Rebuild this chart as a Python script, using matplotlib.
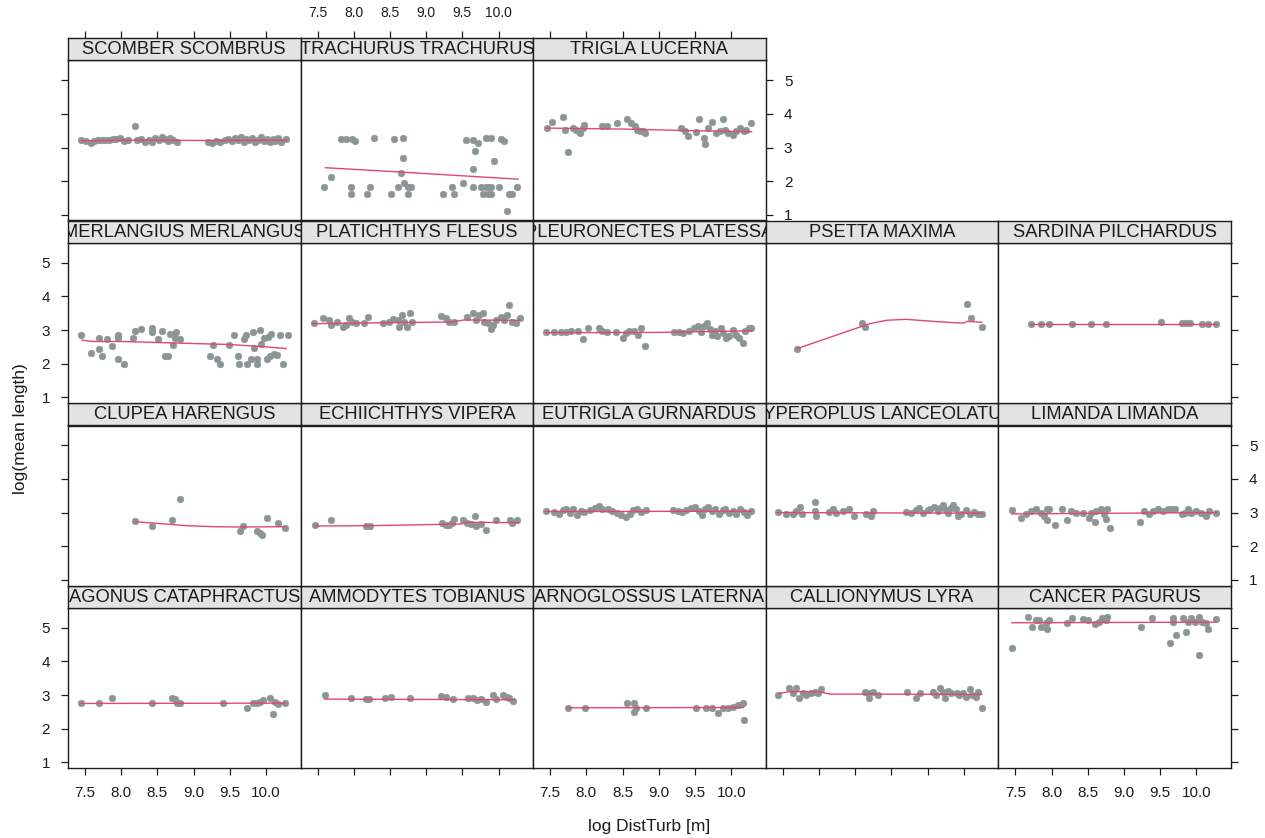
import matplotlib
matplotlib.use("Agg")
import matplotlib.pyplot as plt

# ---------------- data ----------------
AGONUS_X = [7.45, 7.70, 7.87, 8.43, 8.70, 8.74, 8.77, 8.81, 9.40, 9.74, 9.82, 9.87, 9.92, 9.96, 10.06, 10.10, 10.12, 10.17, 10.26]
AGONUS_Y = [2.75, 2.75, 2.90, 2.75, 2.90, 2.87, 2.75, 2.75, 2.75, 2.62, 2.75, 2.75, 2.80, 2.85, 2.90, 2.44, 2.80, 2.73, 2.75]
AGONUS_FX = [7.45, 10.26]
AGONUS_FY = [2.75, 2.76]

AMMODYTES_X = [7.60, 7.96, 8.17, 8.21, 8.43, 8.51, 8.78, 9.21, 9.28, 9.37, 9.58, 9.64, 9.70, 9.76, 9.83, 9.92, 9.97, 10.06, 10.11, 10.15, 10.20]
AMMODYTES_Y = [3.00, 2.90, 2.88, 2.88, 2.90, 2.95, 2.90, 2.97, 2.95, 2.88, 2.92, 2.92, 2.85, 2.88, 2.78, 3.00, 2.88, 3.00, 2.95, 2.90, 2.83]
AMMODYTES_FX = [7.60, 10.22]
AMMODYTES_FY = [2.88, 2.86]

ARNOGLOSSUS_X = [7.74, 7.98, 8.56, 8.66, 8.66, 8.68, 8.82, 9.52, 9.65, 9.74, 9.82, 9.88, 9.96, 10.03, 10.10, 10.16, 10.17]
ARNOGLOSSUS_Y = [2.62, 2.62, 2.77, 2.77, 2.50, 2.62, 2.62, 2.62, 2.62, 2.62, 2.48, 2.62, 2.62, 2.65, 2.69, 2.77, 2.25]
ARNOGLOSSUS_FX = [7.74, 10.17]
ARNOGLOSSUS_FY = [2.62, 2.63]

CALLIONYMUS_X = [7.44, 7.59, 7.64, 7.68, 7.73, 7.78, 7.82, 7.89, 7.94, 7.98, 8.03, 8.63, 8.67, 8.69, 8.74, 8.81, 9.21, 9.34, 9.39, 9.57,
                 9.62, 9.67, 9.71, 9.74, 9.78, 9.83, 9.90, 9.94, 9.99, 10.03, 10.08, 10.11, 10.17, 10.19, 10.25]
CALLIONYMUS_Y = [3.00, 3.20, 3.05, 3.20, 2.90, 3.05, 3.00, 3.05, 3.10, 3.05, 3.17, 3.10, 3.07, 2.90, 3.10, 3.00, 3.10, 2.90, 3.05, 3.10,
                 3.00, 3.20, 3.10, 2.90, 3.12, 3.05, 3.07, 3.00, 3.05, 2.95, 3.17, 3.00, 2.95, 3.10, 2.62]
CALLIONYMUS_FX = [7.45, 7.59, 8.00, 8.15, 10.25]
CALLIONYMUS_FY = [3.05, 3.10, 3.10, 3.03, 3.02]

CANCER_X = [7.45, 7.67, 7.73, 7.78, 7.82, 7.85, 7.92, 7.94, 7.96, 8.21, 8.28, 8.43, 8.50, 8.60, 8.65, 8.69, 8.75, 8.77, 9.23, 9.39,
            9.63, 9.67, 9.68, 9.72, 9.81, 9.86, 9.88, 9.93, 9.98, 10.04, 10.04, 10.08, 10.13, 10.16, 10.27]
CANCER_Y = [4.39, 5.31, 5.03, 5.22, 5.23, 5.03, 5.15, 4.98, 5.23, 5.15, 5.28, 5.25, 5.22, 5.11, 5.18, 5.28, 5.22, 5.33, 5.03, 5.28,
            4.56, 5.18, 5.28, 4.78, 5.28, 4.88, 5.18, 5.28, 5.18, 5.31, 4.19, 5.18, 5.13, 4.98, 5.25]
CANCER_FX = [7.45, 10.27]
CANCER_FY = [5.15, 5.17]

CLUPEA_X = [8.19, 8.42, 8.70, 8.81, 9.64, 9.68, 9.87, 9.92, 9.95, 10.01, 10.16, 10.26]
CLUPEA_Y = [2.75, 2.61, 2.77, 3.41, 2.46, 2.61, 2.46, 2.38, 2.33, 2.83, 2.69, 2.54]
CLUPEA_FX = [8.19, 8.90, 9.27, 9.64, 10.26]
CLUPEA_FY = [2.73, 2.61, 2.58, 2.57, 2.58]

ECHIICHTHYS_X = [7.47, 7.69, 8.17, 8.22, 9.22, 9.27, 9.31, 9.36, 9.39, 9.51, 9.57, 9.62, 9.67, 9.69, 9.76, 9.82, 9.96, 10.16, 10.19, 10.26]
ECHIICHTHYS_Y = [2.63, 2.77, 2.61, 2.61, 2.70, 2.64, 2.64, 2.68, 2.80, 2.77, 2.70, 2.66, 2.90, 2.61, 2.66, 2.48, 2.77, 2.77, 2.68, 2.77]
ECHIICHTHYS_FX = [7.47, 8.22, 9.48, 9.57, 10.27]
ECHIICHTHYS_FY = [2.60, 2.61, 2.66, 2.71, 2.70]

EUTRIGLA_X = [7.44, 7.55, 7.62, 7.68, 7.72, 7.78, 7.82, 7.87, 7.92, 7.97, 8.05, 8.12, 8.17, 8.22, 8.30, 8.36, 8.42, 8.48, 8.55, 8.60,
              8.65, 8.70, 8.76, 8.82, 9.20, 9.26, 9.32, 9.38, 9.45, 9.50, 9.55, 9.60, 9.64, 9.68, 9.73, 9.78, 9.83, 9.88, 9.92, 9.97,
              10.02, 10.07, 10.12, 10.17, 10.22, 10.28]
EUTRIGLA_Y = [3.05, 3.02, 2.96, 3.08, 3.12, 3.00, 3.10, 2.92, 3.06, 3.02, 3.08, 3.15, 3.20, 3.12, 3.10, 3.06, 3.00, 2.92, 2.88, 2.95,
              3.08, 3.12, 3.02, 3.08, 3.08, 3.06, 3.02, 3.08, 3.14, 3.18, 3.06, 2.94, 3.10, 3.16, 3.04, 3.10, 2.96, 3.08, 3.12, 3.00,
              3.06, 2.95, 3.10, 3.02, 2.94, 3.06]
EUTRIGLA_FX = [7.44, 10.28]
EUTRIGLA_FY = [3.03, 3.04]

HYPEROPLUS_X = [7.43, 7.55, 7.64, 7.68, 7.74, 7.76, 7.94, 7.95, 7.96, 8.14, 8.19, 8.23, 8.33, 8.42, 8.49, 8.65, 8.74, 8.72, 9.20, 9.27,
                9.34, 9.38, 9.43, 9.50, 9.54, 9.59, 9.64, 9.67, 9.71, 9.75, 9.78, 9.82, 9.85, 9.89, 9.92, 9.96, 10.03, 10.08, 10.14, 10.19,
                10.25]
HYPEROPLUS_Y = [3.02, 2.97, 2.97, 3.05, 3.16, 2.95, 3.30, 3.05, 2.90, 3.02, 3.10, 3.00, 3.05, 3.10, 2.90, 2.97, 3.05, 2.90, 3.02, 3.00,
                3.07, 3.14, 3.00, 3.07, 3.10, 3.16, 3.05, 3.14, 3.23, 3.07, 3.00, 3.14, 3.23, 3.10, 2.90, 2.97, 3.07, 2.97, 3.02, 2.95,
                2.97]
HYPEROPLUS_FX = [7.43, 10.25]
HYPEROPLUS_FY = [3.00, 2.98]

LIMANDA_X = [7.45, 7.58, 7.64, 7.71, 7.79, 7.85, 7.89, 7.94, 7.97, 7.94, 8.04, 8.15, 8.21, 8.27, 8.34, 8.43, 8.52, 8.55, 8.60, 8.61,
             8.68, 8.72, 8.75, 8.77, 8.80, 9.22, 9.28, 9.35, 9.40, 9.47, 9.54, 9.61, 9.66, 9.70, 9.80, 9.84, 9.88, 9.93, 10.00, 10.07,
             10.13, 10.17, 10.27]
LIMANDA_Y = [3.07, 2.85, 2.95, 3.05, 3.12, 3.00, 2.90, 3.10, 3.12, 2.78, 2.64, 3.12, 2.78, 3.05, 3.00, 3.00, 2.85, 3.00, 2.71, 3.05,
             3.12, 2.95, 2.81, 3.12, 2.55, 2.71, 3.05, 2.95, 3.05, 3.10, 3.05, 3.12, 3.10, 3.12, 2.95, 3.00, 3.10, 3.00, 3.05, 3.00,
             2.90, 3.05, 3.00]
LIMANDA_FX = [7.45, 10.27]
LIMANDA_FY = [2.96, 3.00]

MERLANGIUS_X = [7.45, 7.58, 7.69, 7.69, 7.73, 7.81, 7.87, 7.95, 7.95, 7.95, 8.04, 8.16, 8.19, 8.28, 8.42, 8.43, 8.51, 8.56, 8.60, 8.65,
                8.67, 8.71, 8.74, 8.76, 8.81, 9.22, 9.27, 9.33, 9.37, 9.49, 9.56, 9.62, 9.63, 9.69, 9.73, 9.74, 9.79, 9.82, 9.83, 9.87,
                9.88, 9.92, 9.93, 9.97, 10.01, 10.03, 10.05, 10.07, 10.11, 10.15, 10.19, 10.24, 10.30]
MERLANGIUS_Y = [2.86, 2.32, 2.76, 2.44, 2.23, 2.72, 2.52, 2.86, 2.76, 2.13, 2.00, 2.76, 2.97, 3.03, 3.05, 2.93, 2.72, 2.97, 2.23, 2.23,
                2.88, 2.57, 2.76, 2.95, 2.73, 2.23, 2.57, 2.13, 2.00, 2.57, 2.86, 2.23, 1.98, 2.72, 2.85, 1.98, 2.13, 2.95, 2.47, 2.13,
                1.98, 3.01, 2.58, 2.76, 2.13, 2.80, 2.23, 2.88, 2.30, 2.25, 2.86, 1.98, 2.86]
MERLANGIUS_FX = [7.46, 7.60, 8.00, 8.50, 9.00, 9.50, 10.00, 10.28]
MERLANGIUS_FY = [2.70, 2.66, 2.66, 2.63, 2.60, 2.57, 2.50, 2.45]

PLATICHTHYS_X = [7.45, 7.58, 7.66, 7.68, 7.77, 7.85, 7.89, 7.94, 7.97, 8.03, 8.14, 8.20, 8.41, 8.49, 8.54, 8.61, 8.63, 8.67, 8.70, 8.74,
                 8.78, 8.81, 9.21, 9.27, 9.32, 9.39, 9.57, 9.64, 9.69, 9.73, 9.78, 9.80, 9.85, 9.89, 9.92, 9.96, 10.03, 10.08, 10.12, 10.15,
                 10.19, 10.24, 10.29]
PLATICHTHYS_Y = [3.20, 3.35, 3.30, 3.16, 3.23, 3.10, 3.16, 3.37, 3.25, 3.21, 3.21, 3.40, 3.20, 3.23, 3.32, 3.30, 3.10, 3.45, 3.23, 3.10,
                 3.50, 3.23, 3.43, 3.37, 3.25, 3.23, 3.40, 3.50, 3.30, 3.45, 3.50, 3.25, 3.21, 3.03, 3.16, 3.30, 3.40, 3.30, 3.45, 3.75,
                 3.25, 3.21, 3.35]
PLATICHTHYS_FX = [7.43, 8.50, 9.35, 9.52, 10.29]
PLATICHTHYS_FY = [3.19, 3.22, 3.24, 3.30, 3.29]

PLEURONECTES_X = [7.44, 7.55, 7.65, 7.72, 7.79, 7.88, 7.95, 8.02, 8.18, 8.22, 8.29, 8.41, 8.50, 8.55, 8.59, 8.66, 8.71, 8.75, 8.81, 9.21,
                  9.28, 9.34, 9.42, 9.49, 9.54, 9.58, 9.63, 9.66, 9.71, 9.74, 9.77, 9.81, 9.86, 9.89, 9.93, 9.97, 10.02, 10.06, 10.11, 10.16,
                  10.19, 10.24, 10.28]
PLEURONECTES_Y = [2.93, 2.93, 2.93, 2.93, 2.96, 2.96, 2.72, 3.06, 3.06, 2.96, 2.93, 2.93, 2.77, 2.91, 2.96, 2.96, 2.86, 3.06, 2.54, 2.93,
                  2.93, 2.91, 2.96, 3.06, 3.11, 2.93, 3.11, 3.20, 3.03, 2.86, 2.96, 2.81, 3.06, 2.91, 2.77, 2.81, 3.01, 2.86, 2.77, 2.62,
                  2.96, 3.06, 3.06]
PLEURONECTES_FX = [7.44, 9.00, 10.28]
PLEURONECTES_FY = [2.92, 2.93, 2.98]

PSETTA_X = [7.70, 8.60, 8.64, 10.05, 10.10, 10.25]
PSETTA_Y = [2.45, 3.21, 3.08, 3.78, 3.37, 3.09]
PSETTA_FX = [7.70, 8.70, 8.93, 9.20, 9.57, 9.94, 10.00, 10.05, 10.25]
PSETTA_FY = [2.45, 3.19, 3.29, 3.32, 3.26, 3.21, 3.21, 3.26, 3.23]

SARDINA_X = [7.72, 7.85, 7.97, 8.28, 8.55, 8.75, 9.51, 9.80, 9.85, 9.91, 10.08, 10.16, 10.27]
SARDINA_Y = [3.18, 3.18, 3.18, 3.18, 3.18, 3.18, 3.25, 3.20, 3.22, 3.22, 3.18, 3.18, 3.18]
SARDINA_FX = [7.72, 10.27]
SARDINA_FY = [3.18, 3.18]

SCOMBER_X = [7.45, 7.52, 7.58, 7.63, 7.68, 7.73, 7.78, 7.83, 7.88, 7.93, 7.98, 8.04, 8.10, 8.19, 8.22, 8.27, 8.33, 8.38, 8.43, 8.47,
             8.52, 8.56, 8.60, 8.64, 8.68, 8.72, 8.77, 9.20, 9.26, 9.31, 9.37, 9.43, 9.48, 9.53, 9.57, 9.61, 9.65, 9.69, 9.73, 9.77,
             9.81, 9.85, 9.89, 9.93, 9.97, 10.01, 10.05, 10.09, 10.13, 10.17, 10.21, 10.28]
SCOMBER_Y = [3.22, 3.20, 3.15, 3.20, 3.22, 3.21, 3.23, 3.22, 3.25, 3.24, 3.27, 3.20, 3.22, 3.65, 3.21, 3.25, 3.16, 3.22, 3.18, 3.27,
             3.23, 3.30, 3.25, 3.20, 3.28, 3.23, 3.18, 3.18, 3.15, 3.20, 3.16, 3.22, 3.25, 3.19, 3.28, 3.22, 3.30, 3.17, 3.25, 3.21,
             3.27, 3.18, 3.23, 3.30, 3.19, 3.26, 3.17, 3.24, 3.20, 3.28, 3.18, 3.24]
SCOMBER_FX = [7.45, 8.20, 9.20, 10.28]
SCOMBER_FY = [3.20, 3.22, 3.21, 3.22]

TRACHURUS_X = [7.59, 7.68, 7.82, 7.89, 7.98, 8.01, 7.96, 7.96, 8.23, 8.18, 8.28, 8.51, 8.55, 8.68, 8.68, 8.65, 8.61, 8.70, 8.75, 8.75,
               8.79, 9.23, 9.35, 9.39, 9.51, 9.55, 9.64, 9.71, 9.68, 9.64, 9.64, 9.76, 9.83, 9.85, 9.90, 10.00, 9.78, 9.85, 9.90, 9.82,
               9.89, 9.94, 10.04, 10.08, 10.11, 10.15, 10.19, 10.25]
TRACHURUS_Y = [1.83, 2.11, 3.25, 3.25, 3.25, 3.20, 1.83, 1.61, 1.83, 1.61, 3.27, 1.61, 3.25, 3.27, 2.69, 2.25, 1.83, 1.95, 1.83, 1.61,
               1.83, 1.61, 1.83, 1.61, 1.95, 3.22, 3.22, 3.13, 2.90, 2.36, 1.83, 1.83, 1.83, 1.83, 1.83, 1.83, 1.61, 1.61, 1.61, 3.27,
               3.28, 2.59, 3.25, 3.20, 1.10, 1.61, 1.61, 1.83]
TRACHURUS_FX = [7.61, 8.50, 9.50, 10.27]
TRACHURUS_FY = [2.40, 2.29, 2.16, 2.06]

TRIGLA_X = [7.45, 7.52, 7.68, 7.70, 7.74, 7.81, 7.86, 7.91, 7.95, 7.97, 8.21, 8.28, 8.42, 8.56, 8.62, 8.67, 8.70, 8.74, 8.78, 8.81,
            9.31, 9.36, 9.40, 9.51, 9.56, 9.62, 9.64, 9.68, 9.74, 9.79, 9.84, 9.89, 9.91, 9.95, 10.02, 10.07, 10.12, 10.17, 10.21, 10.28]
TRIGLA_Y = [3.58, 3.77, 3.90, 3.52, 2.87, 3.58, 3.52, 3.42, 3.58, 3.66, 3.63, 3.63, 3.73, 3.86, 3.73, 3.63, 3.52, 3.48, 3.50, 3.42,
            3.58, 3.50, 3.35, 3.45, 3.86, 3.29, 3.12, 3.58, 3.77, 3.42, 3.48, 3.86, 3.52, 3.42, 3.38, 3.48, 3.58, 3.48, 3.52, 3.73]
TRIGLA_FX = [7.45, 8.50, 9.50, 10.28]
TRIGLA_FY = [3.58, 3.55, 3.50, 3.47]

# panels in lattice order (bottom-left first, row by row upward)
PANEL_NAMES = ["AGONUS CATAPHRACTUS", "AMMODYTES TOBIANUS", "ARNOGLOSSUS LATERNA", "CALLIONYMUS LYRA", "CANCER PAGURUS",
               "CLUPEA HARENGUS", "ECHIICHTHYS VIPERA", "EUTRIGLA GURNARDUS", "HYPEROPLUS LANCEOLATUS", "LIMANDA LIMANDA",
               "MERLANGIUS MERLANGUS", "PLATICHTHYS FLESUS", "PLEURONECTES PLATESSA", "PSETTA MAXIMA", "SARDINA PILCHARDUS",
               "SCOMBER SCOMBRUS", "TRACHURUS TRACHURUS", "TRIGLA LUCERNA"]
PANEL_PTS = [(AGONUS_X, AGONUS_Y), (AMMODYTES_X, AMMODYTES_Y), (ARNOGLOSSUS_X, ARNOGLOSSUS_Y),
             (CALLIONYMUS_X, CALLIONYMUS_Y), (CANCER_X, CANCER_Y), (CLUPEA_X, CLUPEA_Y),
             (ECHIICHTHYS_X, ECHIICHTHYS_Y), (EUTRIGLA_X, EUTRIGLA_Y), (HYPEROPLUS_X, HYPEROPLUS_Y),
             (LIMANDA_X, LIMANDA_Y), (MERLANGIUS_X, MERLANGIUS_Y), (PLATICHTHYS_X, PLATICHTHYS_Y),
             (PLEURONECTES_X, PLEURONECTES_Y), (PSETTA_X, PSETTA_Y), (SARDINA_X, SARDINA_Y),
             (SCOMBER_X, SCOMBER_Y), (TRACHURUS_X, TRACHURUS_Y), (TRIGLA_X, TRIGLA_Y)]
PANEL_FIT = [(AGONUS_FX, AGONUS_FY), (AMMODYTES_FX, AMMODYTES_FY), (ARNOGLOSSUS_FX, ARNOGLOSSUS_FY),
             (CALLIONYMUS_FX, CALLIONYMUS_FY), (CANCER_FX, CANCER_FY), (CLUPEA_FX, CLUPEA_FY),
             (ECHIICHTHYS_FX, ECHIICHTHYS_FY), (EUTRIGLA_FX, EUTRIGLA_FY), (HYPEROPLUS_FX, HYPEROPLUS_FY),
             (LIMANDA_FX, LIMANDA_FY), (MERLANGIUS_FX, MERLANGIUS_FY), (PLATICHTHYS_FX, PLATICHTHYS_FY),
             (PLEURONECTES_FX, PLEURONECTES_FY), (PSETTA_FX, PSETTA_FY), (SARDINA_FX, SARDINA_FY),
             (SCOMBER_FX, SCOMBER_FY), (TRACHURUS_FX, TRACHURUS_FY), (TRIGLA_FX, TRIGLA_FY)]

X_TICKS = [7.5, 8.0, 8.5, 9.0, 9.5, 10.0]
X_TICKLABELS = ["7.5", "8.0", "8.5", "9.0", "9.5", "10.0"]
Y_TICKS = [1, 2, 3, 4, 5]
Y_TICKLABELS = ["1", "2", "3", "4", "5"]
X_LABEL = "log DistTurb [m]"
Y_LABEL = "log(mean length)"

# ---------------- layout / style ----------------
plt.rcParams["font.family"] = ["Liberation Sans", "DejaVu Sans"]
W, H = 1265, 838
fig = plt.figure(figsize=(W / 100, H / 100), dpi=100)
fig.patch.set_facecolor("white")

LEFT, COLW = 68.0, 232.6
TOP, ROWH, STRIPH = 38.0, 182.5, 22.5
PANELH = ROWH - STRIPH
XLIM = (7.265, 10.478)
YLIM = (0.83, 5.59)
INK = "#1c1c1c"
PT_COLOR = "#8b9595"
LINE_COLOR = "#e0486c"
STRIP_COLOR = "#e3e3e3"
TICK_FS = 11
TICK_LEN = 5
TICK_PAD = 8


def rect(x0, y0, w, h):
    return [x0 / W, 1 - (y0 + h) / H, w / W, h / H]


n = len(PANEL_NAMES)
for i, name in enumerate(PANEL_NAMES):
    row_t = 3 - i // 5
    col = i % 5
    x0 = LEFT + col * COLW
    y_strip = TOP + row_t * ROWH
    y_panel = y_strip + STRIPH

    ax = fig.add_axes(rect(x0, y_panel, COLW, PANELH))
    sax = fig.add_axes(rect(x0, y_strip, COLW, STRIPH))

    px, py = PANEL_PTS[i]
    fx, fy = PANEL_FIT[i]
    ax.plot(px, py, "o", ms=4.8, color=PT_COLOR, mec=PT_COLOR, mew=0.4, zorder=2)
    ax.plot(fx, fy, "-", color=LINE_COLOR, lw=1.0, zorder=3)
    ax.set_xlim(*XLIM)
    ax.set_ylim(*YLIM)
    ax.set_xticks(X_TICKS)
    ax.set_xticklabels(X_TICKLABELS)
    ax.set_yticks(Y_TICKS)
    ax.set_yticklabels(Y_TICKLABELS)
    for s in ax.spines.values():
        s.set_color(INK)
        s.set_linewidth(1.0)

    is_last = (col == 4) or (i == n - 1)
    left_t = col == 0
    right_t = is_last
    bottom_t = row_t == 3
    ax.tick_params(axis="both", direction="out", length=TICK_LEN, width=0.9, color=INK,
                   labelcolor=INK, labelsize=TICK_FS, pad=TICK_PAD)
    ax.tick_params(axis="x", bottom=bottom_t, top=False,
                   labelbottom=bottom_t and col in (0, 2, 4), labeltop=False)
    ax.tick_params(axis="y", left=left_t, right=right_t,
                   labelleft=left_t and row_t in (1, 3),
                   labelright=right_t and row_t in (0, 2))

    # strip
    sax.set_facecolor(STRIP_COLOR)
    sax.set_xlim(*XLIM)
    sax.set_ylim(0, 1)
    sax.set_yticks([])
    sax.set_xticks(X_TICKS)
    sax.set_xticklabels(X_TICKLABELS)
    top_t = row_t == 0
    sax.tick_params(axis="x", direction="out", length=TICK_LEN, width=0.9, color=INK,
                    labelcolor=INK, labelsize=TICK_FS - 1, pad=TICK_PAD,
                    bottom=False, labelbottom=False, top=top_t,
                    labeltop=top_t and col in (1, 3))
    for s in sax.spines.values():
        s.set_color(INK)
        s.set_linewidth(1.0)
    sax.text(0.5, 0.47, name, transform=sax.transAxes, ha="center", va="center",
             fontsize=13.2, color=INK, clip_on=True)

fig.text(649.5 / W, 1 - 826 / H, X_LABEL, ha="center", va="center", fontsize=12.5, color=INK)
fig.text(21 / W, 1 - 429 / H, Y_LABEL, ha="center", va="center", rotation=90, fontsize=12.5, color=INK)

fig.savefig("out.png", dpi=100, facecolor="white")
